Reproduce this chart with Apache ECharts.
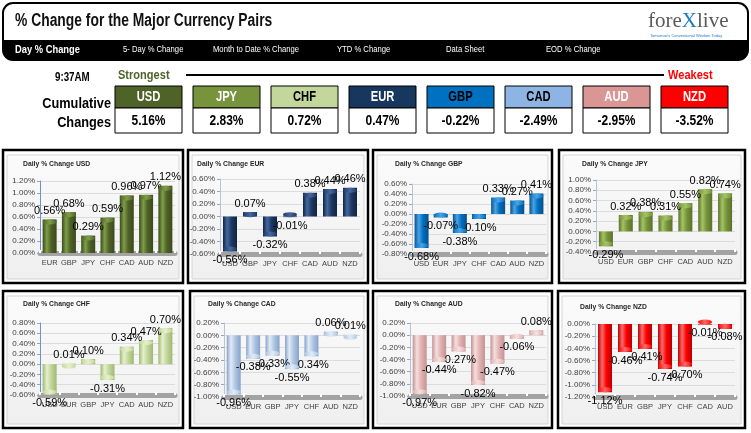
<!DOCTYPE html>
<html><head><meta charset="utf-8">
<script src="https://cdn.jsdelivr.net/npm/echarts@6/dist/echarts.min.js"></script>
<style>html,body{margin:0;padding:0;background:#fff}#c{width:751px;height:433px}</style>
</head><body><div id="c"></div>
<script>
// ---- data ----
const strengthOrder = ['USD','JPY','CHF','EUR','GBP','CAD','AUD','NZD'];
const cumulativeChanges = [5.16, 2.83, 0.72, 0.47, -0.22, -2.49, -2.95, -3.52];
const menuItems = ['Day % Change','5- Day % Change','Month to Date % Change','YTD % Change','Data Sheet','EOD % Change'];
const timeLabel = '9:37AM';

const usdCats = ['EUR','GBP','JPY','CHF','CAD','AUD','NZD'];
const usdVals = [0.56, 0.68, 0.29, 0.59, 0.96, 0.97, 1.12];
const eurCats = ['USD','GBP','JPY','CHF','CAD','AUD','NZD'];
const eurVals = [-0.56, 0.07, -0.32, -0.01, 0.38, 0.44, 0.46];
const gbpCats = ['USD','EUR','JPY','CHF','CAD','AUD','NZD'];
const gbpVals = [-0.68, -0.07, -0.38, -0.10, 0.33, 0.27, 0.41];
const jpyCats = ['USD','EUR','GBP','CHF','CAD','AUD','NZD'];
const jpyVals = [-0.29, 0.32, 0.38, 0.31, 0.55, 0.82, 0.74];
const chfCats = ['USD','EUR','GBP','JPY','CAD','AUD','NZD'];
const chfVals = [-0.59, 0.01, 0.10, -0.31, 0.34, 0.47, 0.70];
const cadCats = ['USD','EUR','GBP','JPY','CHF','AUD','NZD'];
const cadVals = [-0.96, -0.38, -0.33, -0.55, -0.34, 0.06, 0.01];
const audCats = ['USD','EUR','GBP','JPY','CHF','CAD','NZD'];
const audVals = [-0.97, -0.44, -0.27, -0.82, -0.47, -0.06, 0.08];
const nzdCats = ['USD','EUR','GBP','JPY','CHF','CAD','AUD'];
const nzdVals = [-1.12, -0.46, -0.41, -0.74, -0.70, -0.01, -0.08];

const panelNames = ['USD','EUR','GBP','JPY','CHF','CAD','AUD','NZD'];
const panelCats = [usdCats, eurCats, gbpCats, jpyCats, chfCats, cadCats, audCats, nzdCats];
const panelVals = [usdVals, eurVals, gbpVals, jpyVals, chfVals, cadVals, audVals, nzdVals];
const axisMin = [0, -0.6, -0.8, -0.4, -0.6, -1.0, -1.0, -1.2];
const axisMax = [1.2, 0.6, 0.6, 1.0, 0.8, 0.2, 0.2, 0];
const axisStep = 0.2;

// ---- styles / layout ----
const headColors = {USD:'#4F6228', JPY:'#77933C', CHF:'#C3D69B', EUR:'#17375E', GBP:'#0070C0', CAD:'#8DB4E2', AUD:'#DA9694', NZD:'#FF0000'};
const headText = {USD:'#fff', JPY:'#fff', CHF:'#000', EUR:'#fff', GBP:'#000', CAD:'#000', AUD:'#fff', NZD:'#fff'};
const barShades = [
  ['#3a4a1c','#7f9e48','#4F6228'],
  ['#0f2440','#4469a0','#1F3864'],
  ['#0a4f8a','#4aa3e6','#0070C0'],
  ['#5a7129','#a3c463','#77933C'],
  ['#9fb872','#e6f0cc','#C3D69B'],
  ['#86a3c9','#e2ebf6','#B0C7E3'],
  ['#c29493','#f6dfde','#E2B3B2'],
  ['#b80000','#ff6a6a','#FF0000']
];
const boxes = [[3,150,180,133],[188,150,180,133],[373,150,179,133],[559,150,186,133],
               [3,291,180,137],[190,291,178,137],[373,291,179,137],[558,291,187,137]];
const grids = [[40,181,135,72],[220,179,140,75],[412,184,134,70],[596,180,139,72],
               [40,323,135,72],[224,323,136,74],[410,323,136,73],[595,324,140,73]];
const titlePos = [[23,164],[197,164],[395,164],[582,164],[23,304],[208,304],[395,304],[580,307]];

const SANS = '"Liberation Sans", Arial, sans-serif';
const graphic = [];
// header
graphic.push({type:'rect', shape:{x:3,y:3,width:745,height:57,r:10}, style:{fill:'#fff',stroke:'#000',lineWidth:2}});
graphic.push({type:'rect', shape:{x:3,y:40,width:745,height:20,r:[0,0,10,10]}, style:{fill:'#000'}});
graphic.push({type:'text', x:15, y:21, scaleX:0.77, style:{x:0,y:0,text:'% Change for the Major Currency Pairs', font:'900 18px '+SANS, fill:'#111', verticalAlign:'middle'}});
graphic.push({type:'text', x:648, y:21, style:{x:0,y:0, text:'{a|fore}{b|X}{a|live}', verticalAlign:'middle',
  rich:{a:{font:'21px "Liberation Serif", serif', fill:'#5a5a5a'}, b:{font:'21px "Liberation Serif", serif', fill:'#1b7cc2'}}}});
graphic.push({type:'text', x:650, y:36, style:{x:0,y:0,text:"Tomorrow's Conventional Wisdom Today", font:'4px '+SANS, fill:'#1b7cc2', verticalAlign:'middle'}});
const menuX = [15,123,213,337,446,546];
menuItems.forEach((m,i)=>{
  graphic.push({type:'text', x:menuX[i], y:50, scaleX:0.85, style:{x:0,y:0,text:m, font:(i===0?'bold 11px ':'9px ')+SANS, fill:'#fff', verticalAlign:'middle'}});
});
// strength row
graphic.push({type:'text', x:55, y:77, scaleX:0.75, style:{x:0,y:0,text:timeLabel, font:'bold 13px '+SANS, fill:'#000', verticalAlign:'middle'}});
graphic.push({type:'text', x:118, y:75, scaleX:0.85, style:{x:0,y:0,text:'Strongest', font:'bold 13px '+SANS, fill:'#4F6228', verticalAlign:'middle'}});
graphic.push({type:'line', shape:{x1:186,y1:75,x2:664,y2:75}, style:{stroke:'#000',lineWidth:2}});
graphic.push({type:'text', x:668, y:75, scaleX:0.85, style:{x:0,y:0,text:'Weakest', font:'bold 13px '+SANS, fill:'#FF0000', verticalAlign:'middle'}});
graphic.push({type:'text', x:111, y:104, scaleX:0.85, style:{x:0,y:0,text:'Cumulative', font:'bold 15px '+SANS, fill:'#000', align:'right', verticalAlign:'middle'}});
graphic.push({type:'text', x:111, y:123, scaleX:0.85, style:{x:0,y:0,text:'Changes', font:'bold 15px '+SANS, fill:'#000', align:'right', verticalAlign:'middle'}});
strengthOrder.forEach((c,i)=>{
  const x = 115 + i*78;
  graphic.push({type:'rect', shape:{x:x,y:86,width:67,height:22}, style:{fill:headColors[c],stroke:'#000',lineWidth:1}});
  graphic.push({type:'rect', shape:{x:x,y:108,width:67,height:25}, style:{fill:'#fff',stroke:'#000',lineWidth:1}});
  graphic.push({type:'text', x:x+33.5, y:97, scaleX:0.8, style:{x:0,y:0,text:c, font:'bold 14px '+SANS, fill:headText[c], align:'center', verticalAlign:'middle'}});
  graphic.push({type:'text', x:x+33.5, y:121, scaleX:0.8, style:{x:0,y:0,text:cumulativeChanges[i].toFixed(2)+'%', font:'bold 15px '+SANS, fill:'#000', align:'center', verticalAlign:'middle'}});
});
// chart frames
boxes.forEach((b,i)=>{
  graphic.push({type:'rect', z:-10, shape:{x:b[0],y:b[1],width:b[2],height:b[3]}, style:{fill:'#fff',stroke:'#000',lineWidth:2.5}});
  graphic.push({type:'rect', z:-9, shape:{x:b[0]+4,y:b[1]+5,width:b[2]-8,height:b[3]-9},
    style:{fill:new echarts.graphic.LinearGradient(0,0,0,1,[{offset:0,color:'#fbfbfb'},{offset:1,color:'#efefef'}]),stroke:'#d4d4d4',lineWidth:1}});
  graphic.push({type:'text', x:titlePos[i][0], y:titlePos[i][1], scaleX:0.85, style:{x:0,y:0,text:'Daily % Change '+panelNames[i], font:'bold 8px '+SANS, fill:'#262626', verticalAlign:'middle'}});
});

const gridOpt = [], xAxes = [], yAxes = [], series = [];
panelNames.forEach((n,i)=>{
  const g = grids[i];
  gridOpt.push({left:g[0], top:g[1], width:g[2], height:g[3], containLabel:false});
  xAxes.push({type:'category', gridIndex:i, data:panelCats[i], position:'bottom',
    axisLine:{onZero:false, lineStyle:{color:'#a3a3a3', width:5}},
    axisTick:{show:true, inside:true, length:3, lineStyle:{color:'#fff', width:2}},
    axisLabel:{interval:0, fontSize:7.5, color:'#404040', margin:6, fontFamily:SANS}});
  yAxes.push({type:'value', gridIndex:i, min:axisMin[i], max:axisMax[i], interval:axisStep,
    axisLine:{show:true, lineStyle:{color:(i===0||i===4)?'#6f93c4':'#b8c4d4', width:1}},
    axisTick:{show:true, length:3, lineStyle:{color:'#8fa7c8'}},
    splitLine:{lineStyle:{color:'#dcdcdc'}},
    axisLabel:{fontSize:8, color:'#404040', margin:5, fontFamily:SANS, formatter:v=>v.toFixed(2)+'%'}});
  const s = barShades[i];
  const grad = new echarts.graphic.LinearGradient(0,0,1,0,[
    {offset:0,color:s[0]},{offset:0.3,color:s[1]},{offset:0.6,color:s[2]},{offset:1,color:s[0]}]);
  series.push({type:'bar', xAxisIndex:i, yAxisIndex:i, barWidth:14, z:3,
    data: panelVals[i].map(v=>({value:v, label:{position: v>=0?'top':'bottom'}})),
    itemStyle:{color:grad},
    label:{show:true, distance:3, fontSize:11, color:'#000', fontFamily:SANS, formatter:p=>p.value.toFixed(2)+'%'}});
  series.push({type:'pictorialBar', xAxisIndex:i, yAxisIndex:i, z:4, symbol:'circle', symbolSize:[14,5],
    symbolPosition:'end', data: panelVals[i], silent:true,
    itemStyle:{color:new echarts.graphic.LinearGradient(0,0,1,0,[{offset:0,color:s[2]},{offset:0.5,color:s[1]},{offset:1,color:s[2]}])}});
});

const chart = echarts.init(document.getElementById('c'), null, {renderer:'canvas'});
chart.setOption({animation:false, backgroundColor:'#fff', grid:gridOpt, xAxis:xAxes, yAxis:yAxes, series:series, graphic:graphic});
</script></body></html>
